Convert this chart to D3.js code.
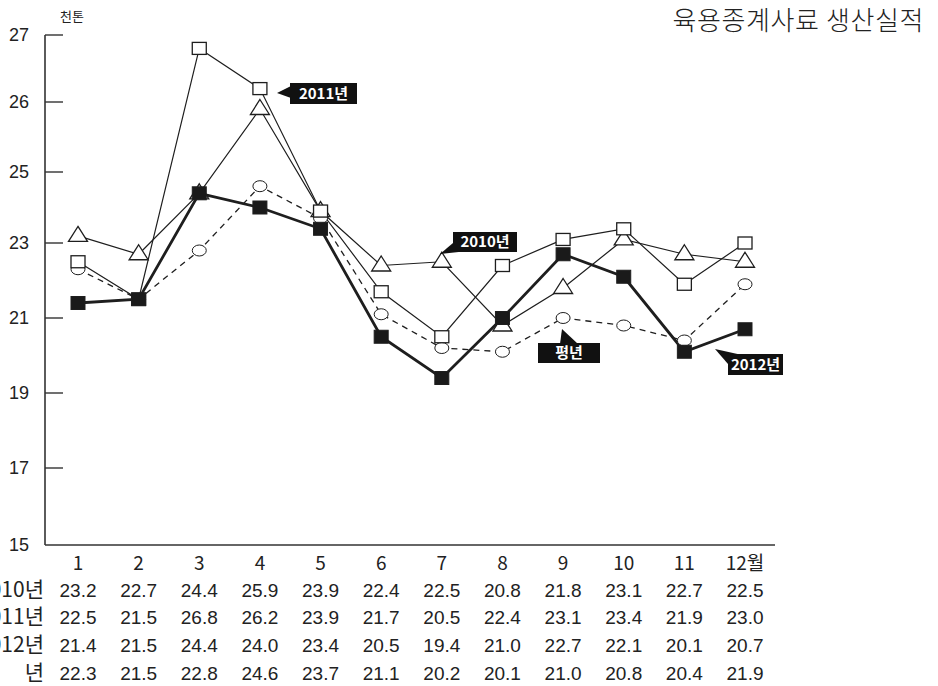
<!DOCTYPE html>
<html>
<head>
<meta charset="UTF-8">
<title>육용종계사료 생산실적</title>
<style>
  body { margin: 0; background: #fff; }
  svg { display: block; }
  text { font-family: "Liberation Sans", Arial, sans-serif; fill: #222; }
  .kr { font-family: "Noto Sans CJK KR", sans-serif; }
</style>
</head>
<body>
<svg id="chart"></svg>
<script src="https://cdn.jsdelivr.net/npm/d3@7/dist/d3.min.js"></script>
<script>
// ---- data ----
var months = ["1", "2", "3", "4", "5", "6", "7", "8", "9", "10", "11", "12월"];
var yTicks = [15, 17, 19, 21, 23, 25, 26, 27];
var rowNames = ["2010년", "2011년", "2012년", "평년"];
var y2010 = [23.2, 22.7, 24.4, 25.9, 23.9, 22.4, 22.5, 20.8, 21.8, 23.1, 22.7, 22.5];
var y2011 = [22.5, 21.5, 26.8, 26.2, 23.9, 21.7, 20.5, 22.4, 23.1, 23.4, 21.9, 23.0];
var y2012 = [21.4, 21.5, 24.4, 24.0, 23.4, 20.5, 19.4, 21.0, 22.7, 22.1, 20.1, 20.7];
var yAvg  = [22.3, 21.5, 22.8, 24.6, 23.7, 21.1, 20.2, 20.1, 21.0, 20.8, 20.4, 21.9];

var W = 938, H = 686;
var svg = d3.select("#chart").attr("width", W).attr("height", H);

var x = d3.scalePoint().domain(months).range([78, 745]);
// broken scale: 1 unit per step above 25, 2 units per step below
var y = d3.scaleLinear()
  .domain(yTicks)
  .range([545, 468, 393, 318, 243, 172, 102, 35]);

// ---- axes ----
var axisColor = "#333";
svg.append("line")
  .attr("x1", 45).attr("x2", 45)
  .attr("y1", y(27)).attr("y2", y(15))
  .attr("stroke", axisColor).attr("stroke-width", 1.6);
svg.append("line")
  .attr("x1", 45).attr("x2", 775)
  .attr("y1", y(15)).attr("y2", y(15))
  .attr("stroke", axisColor).attr("stroke-width", 1.6);

svg.selectAll(".ytick").data(yTicks.filter(function(d) { return d > 15; }))
  .enter().append("line")
  .attr("x1", 45).attr("x2", 63)
  .attr("y1", function(d) { return y(d); })
  .attr("y2", function(d) { return y(d); })
  .attr("stroke", axisColor).attr("stroke-width", 1.4);

svg.selectAll(".ylab").data(yTicks)
  .enter().append("text")
  .attr("x", 29)
  .attr("y", function(d) { return y(d); })
  .attr("dy", "0.36em")
  .attr("text-anchor", "end")
  .attr("font-size", 18)
  .text(function(d) { return d; });

svg.append("text").attr("class", "kr")
  .attr("x", 72).attr("y", 21)
  .attr("text-anchor", "middle")
  .attr("font-size", 13)
  .text("천톤");

svg.append("text").attr("class", "kr")
  .attr("x", 924).attr("y", 30)
  .attr("text-anchor", "end")
  .attr("font-size", 26)
  .attr("font-weight", 300)
  .attr("letter-spacing", 0.6)
  .text("육용종계사료 생산실적");

// ---- table under axis ----
var tableRows = [y2010, y2011, y2012, yAvg];
var rowY = [590, 617, 645, 673];

svg.selectAll(".mlab").data(months)
  .enter().append("text")
  .attr("class", "kr")
  .attr("x", function(d) { return x(d); })
  .attr("y", 570)
  .attr("text-anchor", "middle")
  .attr("font-size", 19)
  .text(function(d) { return d; });

tableRows.forEach(function(row, r) {
  var lab = svg.append("text").attr("class", "kr")
    .attr("y", rowY[r] + 7)
    .attr("font-size", 21)
    .text(rowNames[r]);
  if (rowNames[r].length < 4) {
    // short label is spread over the same width as the year labels
    lab.attr("x", -26).attr("textLength", 70).attr("lengthAdjust", "spacing");
  } else {
    lab.attr("x", 44).attr("text-anchor", "end");
  }
  svg.selectAll(".cell" + r).data(row)
    .enter().append("text")
    .attr("x", function(d, i) { return x(months[i]); })
    .attr("y", rowY[r] + 7)
    .attr("text-anchor", "middle")
    .attr("font-size", 19)
    .text(function(d) { return d.toFixed(1); });
});

// ---- lines ----
var ink = "#1e1e1e";
function lineFor(vals) {
  return d3.line()
    .x(function(d, i) { return x(months[i]); })
    .y(function(d) { return y(d); })(vals);
}

svg.append("path").attr("d", lineFor(yAvg))
  .attr("fill", "none").attr("stroke", ink)
  .attr("stroke-width", 1.3).attr("stroke-dasharray", "6,5");
svg.append("path").attr("d", lineFor(y2010))
  .attr("fill", "none").attr("stroke", ink).attr("stroke-width", 1.2);
svg.append("path").attr("d", lineFor(y2011))
  .attr("fill", "none").attr("stroke", ink).attr("stroke-width", 1.2);
svg.append("path").attr("d", lineFor(y2012))
  .attr("fill", "none").attr("stroke", ink).attr("stroke-width", 2.8);

// ---- markers ----
svg.selectAll(".mAvg").data(yAvg)
  .enter().append("ellipse")
  .attr("cx", function(d, i) { return x(months[i]); })
  .attr("cy", function(d) { return y(d); })
  .attr("rx", 7).attr("ry", 5.5)
  .attr("fill", "#fff").attr("stroke", ink).attr("stroke-width", 1);

svg.selectAll(".m2010").data(y2010)
  .enter().append("path")
  .attr("transform", function(d, i) { return "translate(" + x(months[i]) + "," + y(d) + ")"; })
  .attr("d", "M0,-9.5L9.5,5.5L-9.5,5.5Z")
  .attr("fill", "#fff").attr("stroke", ink).attr("stroke-width", 1.3);

svg.selectAll(".m2011").data(y2011)
  .enter().append("rect")
  .attr("x", function(d, i) { return x(months[i]) - 7; })
  .attr("y", function(d) { return y(d) - 6; })
  .attr("width", 14).attr("height", 12)
  .attr("fill", "#fff").attr("stroke", ink).attr("stroke-width", 1.3);

svg.selectAll(".m2012").data(y2012)
  .enter().append("rect")
  .attr("x", function(d, i) { return x(months[i]) - 7; })
  .attr("y", function(d) { return y(d) - 6.5; })
  .attr("width", 14).attr("height", 13)
  .attr("fill", "#1a1a1a").attr("stroke", ink).attr("stroke-width", 1);

// ---- callout labels ----
var callouts = [
  { text: "2011년", box: [290, 83, 67, 21], ptr: [[277, 93], [291, 86], [291, 98]] },
  { text: "2010년", box: [453, 232, 64, 20], ptr: [[440, 254], [453, 243], [468, 251]] },
  { text: "평년",   box: [538, 343, 62, 20], ptr: [[562, 329], [560, 344], [578, 344]] },
  { text: "2012년", box: [728, 354, 55, 21], ptr: [[715, 349], [728, 364], [742, 355]] }
];
callouts.forEach(function(c) {
  var g = svg.append("g");
  g.append("polygon")
    .attr("points", c.ptr.map(function(p) { return p.join(","); }).join(" "))
    .attr("fill", "#111");
  g.append("rect")
    .attr("x", c.box[0]).attr("y", c.box[1])
    .attr("width", c.box[2]).attr("height", c.box[3])
    .attr("fill", "#111");
  g.append("text").attr("class", "kr")
    .attr("x", c.box[0] + c.box[2] / 2)
    .attr("y", c.box[1] + c.box[3] / 2)
    .attr("dy", "0.36em")
    .attr("text-anchor", "middle")
    .attr("font-size", 15)
    .attr("font-weight", "bold")
    .style("fill", "#fff")
    .text(c.text);
});
</script>
</body>
</html>
